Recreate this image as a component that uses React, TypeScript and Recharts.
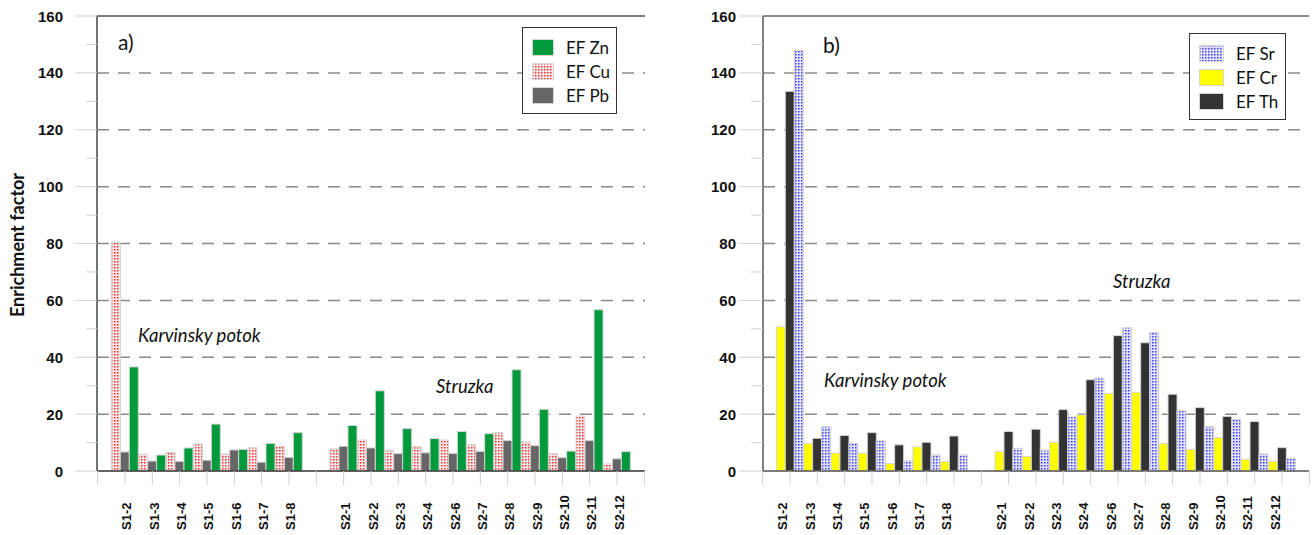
import { BarChart, Bar, XAxis, YAxis, CartesianGrid, Legend, ReferenceLine } from "recharts";

// sampling sites, the empty entry separates the two streams
const sites = [
  "S1-2", "S1-3", "S1-4", "S1-5", "S1-6", "S1-7", "S1-8",
  "",
  "S2-1", "S2-2", "S2-3", "S2-4", "S2-6", "S2-7", "S2-8", "S2-9", "S2-10", "S2-11", "S2-12",
];

// panel a)
const efCu = [80.5, 5.9, 6.5, 9.5, 6.0, 8.2, 8.7, null, 7.8, 10.9, 7.1, 8.5, 10.9, 9.2, 13.5, 10.2, 6.1, 19.3, 2.5];
const efPb = [6.7, 3.5, 3.4, 3.8, 7.4, 3.1, 4.8, null, 8.7, 8.1, 6.1, 6.4, 6.2, 6.9, 10.7, 8.9, 4.7, 10.7, 4.3];
const efZn = [36.6, 5.6, 8.1, 16.5, 7.6, 9.7, 13.5, null, 16.0, 28.2, 14.9, 11.4, 13.9, 13.1, 35.6, 21.7, 7.0, 56.7, 6.8];

// panel b)
const efCr = [50.7, 9.6, 6.3, 6.3, 2.6, 8.5, 3.3, null, 6.8, 5.1, 10.1, 19.7, 27.2, 27.7, 9.6, 7.6, 11.7, 4.1, 3.4];
const efTh = [133.5, 11.5, 12.5, 13.5, 9.2, 10.1, 12.3, null, 13.9, 14.7, 21.6, 32.1, 47.6, 45.1, 27.0, 22.3, 19.2, 17.4, 8.2];
const efSr = [148, 15.6, 9.7, 10.6, 3.6, 5.7, 5.7, null, 8.0, 7.3, 19.0, 32.7, 50.4, 48.7, 21.2, 15.6, 18.2, 6.0, 4.5];

const yTicks = [0, 10, 20, 30, 40, 50, 60, 70, 80, 90, 100, 110, 120, 130, 140, 150, 160];
const gridLines = [20, 40, 60, 80, 100, 120, 140];

const dataA = sites.map((site, i) => ({ site, cu: efCu[i], pb: efPb[i], zn: efZn[i] }));
const dataB = sites.map((site, i) => ({ site, cr: efCr[i], th: efTh[i], sr: efSr[i] }));

const BAND = 27.33;
const AXIS_FONT = "'Liberation Sans', Arial, sans-serif";
const TEXT_FONT = "Lato, 'Open Sans', sans-serif";

const siteTick = (shift: number) => (props: any) => {
  const { x, y, payload, index } = props;
  const edge = index === 0 ? x - BAND : index === sites.length - 1 ? x + BAND : null;
  return (
    <g>
      {edge !== null && <line x1={edge} x2={edge} y1={y - 14} y2={y} stroke="#d0d0d0" />}
      {payload.value && (
        <text
          transform={`translate(${x + shift}, ${y + 45}) rotate(-90)`}
          textAnchor="start"
          dominantBaseline="central"
          fontFamily={AXIS_FONT}
          fontWeight="bold"
          fontSize={13}
          fill="#111"
        >
          {payload.value}
        </text>
      )}
    </g>
  );
};

const valueTick = (labelGap: number, major: number, minor: number) => (props: any) => {
  const { x, y, payload } = props;
  const isMajor = payload.value % 20 === 0;
  return (
    <g>
      <line x1={x - (isMajor ? major : minor)} x2={x} y1={y} y2={y} stroke="#d0d0d0" />
      {isMajor && (
        <text
          x={x - labelGap}
          y={y}
          textAnchor="end"
          dominantBaseline="central"
          fontFamily={AXIS_FONT}
          fontWeight="bold"
          fontSize={15}
          fill="#111"
        >
          {payload.value}
        </text>
      )}
    </g>
  );
};

interface LegendItem {
  name: string;
  fill: string;
}

function LegendBox({ items, width, swatch }: { items: LegendItem[]; width: number; swatch: number }) {
  return (
    <div
      style={{
        width,
        boxSizing: "border-box",
        border: "1.5px solid #333",
        background: "#fff",
        padding: "7px 0 6px 9px",
        fontFamily: TEXT_FONT,
        fontSize: 17,
        color: "#111",
      }}
    >
      {items.map((it) => (
        <div key={it.name} style={{ display: "flex", alignItems: "center", height: 24 }}>
          <svg width={swatch} height={17} style={{ display: "block" }}>
            <rect x={0.5} y={0.5} width={swatch - 1} height={16} fill={it.fill} stroke="#d6d6d6" />
          </svg>
          <span style={{ marginLeft: 12 }}>{it.name}</span>
        </div>
      ))}
    </div>
  );
}

const legendA: LegendItem[] = [
  { name: "EF Zn", fill: "#009a3c" },
  { name: "EF Cu", fill: "url(#dotsCu)" },
  { name: "EF Pb", fill: "#666666" },
];

const legendB: LegendItem[] = [
  { name: "EF Sr", fill: "url(#dotsSr)" },
  { name: "EF Cr", fill: "#ffff00" },
  { name: "EF Th", fill: "#333333" },
];

const note = (left: number, top: number, size: number, italic = false): React.CSSProperties => ({
  position: "absolute",
  left,
  top,
  fontFamily: TEXT_FONT,
  fontSize: size,
  fontStyle: italic ? "italic" : "normal",
  color: "#111",
  lineHeight: 1,
  whiteSpace: "nowrap",
});

export default function App() {
  return (
    <div style={{ position: "fixed", left: 0, top: 0, width: 1314, height: 535, background: "#fff" }}>
      <svg width={0} height={0} style={{ position: "absolute" }}>
        <defs>
          <pattern id="dotsCu" width={3} height={3} patternUnits="userSpaceOnUse">
            <rect width={3} height={3} fill="#fde6e6" />
            <rect width={1.5} height={1.5} fill="#ee3030" />
          </pattern>
          <pattern id="dotsSr" width={3} height={3} patternUnits="userSpaceOnUse">
            <rect width={3} height={3} fill="#e0e0ff" />
            <rect width={1.5} height={1.5} fill="#3b3bff" />
          </pattern>
        </defs>
      </svg>

      <div style={{ position: "absolute", left: 0, top: 0 }}>
        <BarChart
          width={660}
          height={535}
          data={dataA}
          margin={{ top: 16, right: 15, left: 0, bottom: 0 }}
          barCategoryGap={0}
          barGap={0}
        >
          <CartesianGrid
            vertical={false}
            horizontalValues={gridLines}
            stroke="#8a8a8a"
            strokeWidth={1.5}
            strokeDasharray="12 9"
          />
          <XAxis
            dataKey="site"
            interval={0}
            height={64}
            padding={{ left: 14.3, right: 14.3 }}
            axisLine={{ stroke: "#333", strokeWidth: 1.5 }}
            tickLine={{ stroke: "#d0d0d0" }}
            tickSize={14}
            tickMargin={0}
            tick={siteTick(2)}
          />
          <YAxis
            width={97}
            domain={[0, 160]}
            ticks={yTicks}
            interval={0}
            axisLine={{ stroke: "#444", strokeWidth: 1.5 }}
            tickLine={false}
            tickSize={0}
            tickMargin={0}
            tick={valueTick(34, 22, 11)}
          />
          <YAxis
            yAxisId="frame"
            orientation="right"
            width={0}
            tick={false}
            tickLine={false}
            axisLine={{ stroke: "#222", strokeWidth: 2 }}
          />
          <ReferenceLine y={160} stroke="#555" strokeWidth={1.5} />
          <Legend
            layout="vertical"
            align="center"
            verticalAlign="middle"
            wrapperStyle={{ left: 522, top: 27, width: 95 }}
            content={() => <LegendBox items={legendA} width={95} swatch={22} />}
          />
          <Bar dataKey="cu" name="EF Cu" fill="url(#dotsCu)" stroke="#d4d4d4" isAnimationActive={false} />
          <Bar dataKey="pb" name="EF Pb" fill="#666666" stroke="#d4d4d4" isAnimationActive={false} />
          <Bar dataKey="zn" name="EF Zn" fill="#009a3c" stroke="#d4d4d4" isAnimationActive={false} />
        </BarChart>
      </div>

      <div style={{ position: "absolute", left: 660, top: 0 }}>
        <BarChart
          width={654}
          height={535}
          data={dataB}
          margin={{ top: 16, right: 5, left: 0, bottom: 0 }}
          barCategoryGap={0}
          barGap={0}
        >
          <CartesianGrid
            vertical={false}
            horizontalValues={gridLines}
            stroke="#8a8a8a"
            strokeWidth={1.5}
            strokeDasharray="12 9"
          />
          <XAxis
            dataKey="site"
            interval={0}
            height={64}
            padding={{ left: 13.3, right: 13.3 }}
            axisLine={{ stroke: "#555", strokeWidth: 1.5 }}
            tickLine={{ stroke: "#d0d0d0" }}
            tickSize={14}
            tickMargin={0}
            tick={siteTick(-7)}
          />
          <YAxis
            width={103}
            domain={[0, 160]}
            ticks={yTicks}
            interval={0}
            axisLine={{ stroke: "#555", strokeWidth: 1.5 }}
            tickLine={false}
            tickSize={0}
            tickMargin={0}
            tick={valueTick(27, 24, 12)}
          />
          <YAxis
            yAxisId="frame"
            orientation="right"
            width={0}
            tick={false}
            tickLine={false}
            axisLine={{ stroke: "#777", strokeWidth: 1.5 }}
          />
          <ReferenceLine y={160} stroke="#666" strokeWidth={1.5} />
          <Legend
            layout="vertical"
            align="center"
            verticalAlign="middle"
            wrapperStyle={{ left: 529, top: 33, width: 97 }}
            content={() => <LegendBox items={legendB} width={97} swatch={25} />}
          />
          <Bar dataKey="cr" name="EF Cr" fill="#ffff00" stroke="#d4d4d4" isAnimationActive={false} />
          <Bar dataKey="th" name="EF Th" fill="#333333" stroke="#d4d4d4" isAnimationActive={false} />
          <Bar dataKey="sr" name="EF Sr" fill="url(#dotsSr)" stroke="#d4d4d4" isAnimationActive={false} />
        </BarChart>
      </div>

      <div
        style={{
          ...note(17, 245, 18),
          fontWeight: "bold",
          transform: "translate(-50%, -50%) rotate(-90deg)",
        }}
      >
        Enrichment factor
      </div>
      <div style={note(118, 31, 21)}>a)</div>
      <div style={note(823, 34, 21)}>b)</div>
      <div style={note(138, 326, 18.5, true)}>Karvinsky potok</div>
      <div style={note(436, 377, 18.5, true)}>Struzka</div>
      <div style={note(824, 371, 18.5, true)}>Karvinsky potok</div>
      <div style={note(1113, 272, 18.5, true)}>Struzka</div>
    </div>
  );
}
